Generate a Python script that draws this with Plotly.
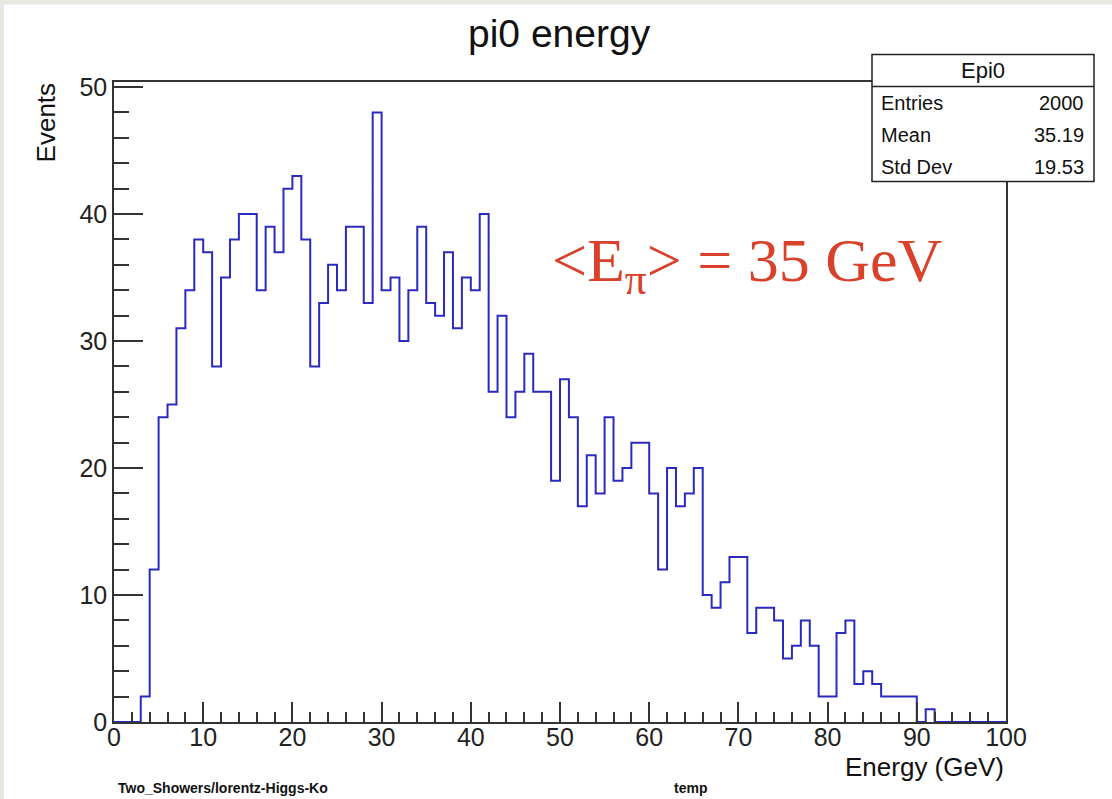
import plotly.graph_objects as go

# ---- data ----
bin_edges = list(range(0, 101))
counts = [0, 0, 0, 2, 12, 24, 25, 31, 34, 38,
          37, 28, 35, 38, 40, 40, 34, 39, 37, 42,
          43, 38, 28, 33, 36, 34, 39, 39, 33, 48,
          34, 35, 30, 34, 39, 33, 32, 37, 31, 35,
          34, 40, 26, 32, 24, 26, 29, 26, 26, 19,
          27, 24, 17, 21, 18, 24, 19, 20, 22, 22,
          18, 12, 20, 17, 18, 20, 10, 9, 11, 13,
          13, 7, 9, 9, 8, 5, 6, 8, 6, 2,
          2, 7, 8, 3, 4, 3, 2, 2, 2, 2,
          0, 1, 0, 0, 0, 0, 0, 0, 0, 0]
stats_labels = ["Entries", "Mean", "Std Dev"]
stats_values = ["2000", "35.19", "19.53"]
hist_name = "Epi0"
title_text = "pi0 energy"
x_title = "Energy (GeV)"
y_title = "Events"

W, H = 1112, 799
L, R = 114, 1006      # plot area pixel bounds
T, B = 81.6, 721.7

def px(x):
    return (x - L) / (R - L)

def py(y):
    return (B - y) / (B - T)

xs = bin_edges[:-1] + [bin_edges[-1]]
ys = counts + [counts[-1]]

fig = go.Figure()
fig.add_trace(go.Scatter(x=xs, y=ys, mode="lines", line_shape="hv",
                         line=dict(color="#2a2abf", width=2), hoverinfo="skip",
                         showlegend=False))

axis_common = dict(showline=True, mirror=True, linecolor="#333333", linewidth=1.5,
                   showgrid=False, zeroline=False, ticks="inside", tickcolor="#333333",
                   tickwidth=1.5, tickfont=dict(family="Liberation Sans", size=25, color="#222222"))

fig.update_xaxes(range=[0, 100], dtick=10, tick0=0, ticklen=20, ticklabelstandoff=-8,
                 minor=dict(ticks="inside", dtick=2, ticklen=10, tickcolor="#333333", tickwidth=1.5),
                 **axis_common)
fig.update_yaxes(range=[0, 50.4], dtick=10, tick0=0, ticklen=29,
                 minor=dict(ticks="inside", dtick=2, ticklen=15, tickcolor="#333333", tickwidth=1.5),
                 **axis_common)

shapes = [
    # white canvas over beige page border
    dict(type="rect", xref="paper", yref="paper", x0=px(4), x1=px(1130), y0=py(820), y1=py(4),
         fillcolor="white", line=dict(width=0), layer="below"),
    # stats box
    dict(type="rect", xref="paper", yref="paper", x0=px(872), x1=px(1094), y0=py(181), y1=py(54),
         fillcolor="white", line=dict(color="#222222", width=1.5), layer="above"),
    dict(type="line", xref="paper", yref="paper", x0=px(872), x1=px(1094), y0=py(86), y1=py(86),
         line=dict(color="#222222", width=1.5), layer="above"),
]

ann = []
ann.append(dict(text=title_text, x=px(559), y=py(33), xref="paper", yref="paper",
                showarrow=False, xanchor="center", yanchor="middle",
                font=dict(family="Liberation Sans", size=39, color="#111111")))
ann.append(dict(text=hist_name, x=px(983), y=py(70), xref="paper", yref="paper",
                showarrow=False, xanchor="center", yanchor="middle",
                font=dict(family="Liberation Sans", size=22, color="#111111")))
row_y = [103, 135, 167]
for lab, val, yy in zip(stats_labels, stats_values, row_y):
    ann.append(dict(text=lab, x=px(879), y=py(yy), xref="paper", yref="paper",
                    showarrow=False, xanchor="left", yanchor="middle",
                    font=dict(family="Liberation Sans", size=20, color="#111111")))
    ann.append(dict(text=val, x=px(1086), y=py(yy), xref="paper", yref="paper",
                    showarrow=False, xanchor="right", yanchor="middle",
                    font=dict(family="Liberation Sans", size=20, color="#111111")))
ann.append(dict(text=y_title, x=px(46), y=py(80), xref="paper", yref="paper",
                showarrow=False, xanchor="center", yanchor="top", textangle=-90,
                font=dict(family="Liberation Sans", size=26, color="#111111")))
ann.append(dict(text=x_title, x=px(1006), y=py(767), xref="paper", yref="paper",
                showarrow=False, xanchor="right", yanchor="middle",
                font=dict(family="Liberation Sans", size=26, color="#111111")))
ann.append(dict(text="&lt;E<sub>π</sub>&gt; = 35 GeV", x=px(550), y=py(264), xref="paper", yref="paper",
                showarrow=False, xanchor="left", yanchor="middle",
                font=dict(family="Liberation Serif", size=62, color="#d9412b")))
ann.append(dict(text="<b>Two_Showers/lorentz-Higgs-Ko</b>", x=px(116), y=py(788), xref="paper", yref="paper",
                showarrow=False, xanchor="left", yanchor="middle",
                font=dict(family="Liberation Sans Narrow, Liberation Sans", size=14, color="#111111")))
ann.append(dict(text="<b>temp</b>", x=px(690), y=py(788), xref="paper", yref="paper",
                showarrow=False, xanchor="center", yanchor="middle",
                font=dict(family="Liberation Sans Narrow, Liberation Sans", size=14, color="#111111")))

fig.update_layout(width=W, height=H, margin=dict(l=L, r=W - R, t=T, b=H - B, pad=0),
                  paper_bgcolor="#e9e7e2", plot_bgcolor="white",
                  shapes=shapes, annotations=ann)

fig.write_html("out.html")
